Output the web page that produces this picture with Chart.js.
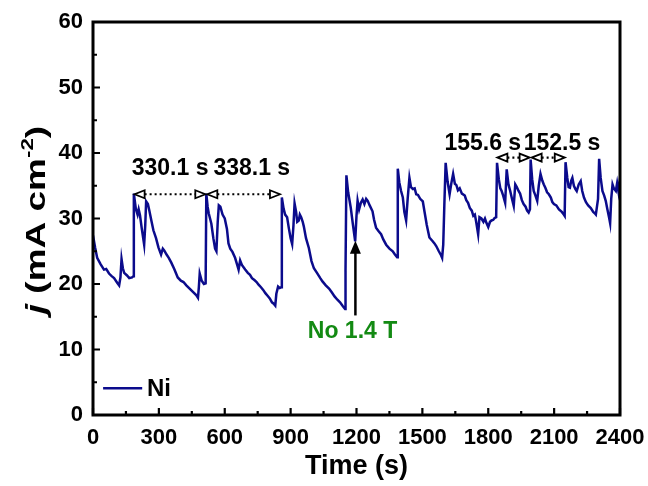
<!DOCTYPE html>
<html>
<head>
<meta charset="utf-8">
<script src="https://cdn.jsdelivr.net/npm/chart.js@4.4.1/dist/chart.umd.min.js"></script>
<style>
  html, body { margin: 0; padding: 0; background: #fff; }
  #wrap { width: 648px; height: 486px; }
</style>
</head>
<body>
<div id="wrap"><canvas id="jtChart" width="648" height="486"></canvas></div>
<script>
// chronoamperometry of Ni, field switched on/off
const timeS = [
  0, 10, 19, 35, 50, 60, 73, 85, 96, 110, 119, 125, 130, 136, 142, 155, 165, 178, 184,
  186, 195, 203, 208, 214, 222, 233, 238, 242, 250, 256, 265, 275, 287, 298, 310, 318, 325, 335, 345, 356,
  370, 386, 400, 412, 425, 440, 455, 470, 478, 482, 486, 495, 505, 513,
  516, 522, 527, 533, 539, 548, 556, 562, 568, 573, 580, 590, 600, 610, 617, 625, 635, 647, 656, 663,
  670, 678, 693, 705, 715, 724, 735, 745, 754, 765, 775, 785, 795, 805, 815, 823, 830, 835, 843, 850, 857,
  860, 868, 875, 884, 892, 900, 907, 913, 918, 925, 930, 937, 942, 948, 955, 960, 970, 983, 995, 1006,
  1020, 1035, 1045, 1060, 1075, 1088, 1100, 1113, 1125, 1138, 1148, 1150,
  1154, 1162, 1174, 1184, 1194, 1200, 1205, 1212, 1220, 1228, 1236, 1244, 1251, 1260, 1273, 1280, 1289,
  1300, 1312, 1322, 1335, 1350, 1365, 1375, 1385,
  1388, 1395, 1403, 1411, 1418, 1426, 1433, 1441, 1448, 1457, 1465, 1472, 1480, 1490, 1502, 1510, 1520,
  1532, 1545, 1555, 1563, 1575, 1585, 1590, 1595, 1600,
  1606, 1615, 1624, 1632, 1640, 1648, 1655, 1662, 1670, 1680, 1693, 1700, 1708, 1716, 1725, 1732, 1739,
  1745, 1754, 1760, 1769, 1778, 1785, 1792, 1800, 1808, 1815, 1823, 1830, 1836,
  1840, 1848, 1855, 1861, 1868, 1877, 1884, 1892, 1900, 1908, 1916, 1923, 1930, 1938, 1945, 1953, 1961,
  1970, 1977, 1984, 1990,
  1993, 2000, 2007, 2015, 2023, 2030, 2038, 2046, 2053, 2060, 2068, 2076, 2085, 2092, 2099, 2110, 2122,
  2135, 2144, 2148,
  2152, 2160, 2166, 2172, 2178, 2183, 2190, 2197, 2203, 2212, 2221, 2228, 2236, 2245, 2255, 2267, 2278,
  2285, 2290, 2300,
  2305, 2312, 2320, 2328, 2335, 2342, 2350, 2355, 2360, 2366, 2372, 2381, 2387, 2393, 2397, 2400
];
const currentNi = [
  27.4, 25.5, 24.0, 23.0, 22.2, 22.3, 21.6, 21.2, 20.9, 20.2, 19.8, 21.0, 23.8, 22.4, 21.7, 21.3, 20.9, 21.0, 21.2,
  33.8, 31.5, 30.6, 31.4, 30.5, 28.5, 26.0, 29.0, 32.6, 32.2, 31.3, 29.8, 28.2, 27.0, 25.6, 24.5, 25.4, 25.1, 24.5, 24.0, 23.3,
  22.3, 21.0, 20.5, 20.3, 19.8, 19.3, 18.8, 18.3, 17.9, 19.5, 21.6, 20.5, 20.0, 20.1,
  33.8, 31.8, 30.8, 30.0, 29.2, 27.0, 25.4, 25.0, 29.5, 32.0, 31.8, 30.6, 30.0, 28.4, 26.2, 25.4, 24.9, 24.0, 23.0, 22.2,
  23.6, 22.9, 22.2, 21.7, 21.4, 20.9, 20.6, 20.3, 19.9, 19.5, 19.1, 18.6, 18.2, 17.8, 17.2, 17.0, 16.7, 18.5, 19.6, 19.4, 19.5,
  33.2, 31.5, 30.6, 30.2, 28.5, 27.0, 26.1, 29.0, 32.3, 31.0, 29.5, 29.7, 30.6, 30.2, 29.5, 28.8, 27.0, 25.5, 23.5, 22.4,
  21.7, 20.9, 20.4, 19.8, 19.3, 18.7, 18.1, 17.6, 17.2, 16.6, 16.2, 22.0,
  36.6, 34.0, 31.6, 29.0, 26.5, 30.4, 32.7, 31.4, 32.4, 32.9, 32.2, 33.0, 32.7, 32.0, 31.1, 29.8, 28.6,
  28.1, 27.6, 26.8, 26.0, 25.4, 25.0, 24.5, 24.1,
  37.6, 35.5, 34.2, 33.2, 31.0, 29.7, 33.0, 36.2, 34.8, 34.5, 34.6, 33.7, 33.6, 33.0, 32.6, 31.0, 29.0,
  27.1, 26.6, 26.2, 25.8, 25.0, 24.4, 24.0, 26.0, 32.0,
  38.5, 35.6, 33.7, 35.4, 36.8, 35.3, 35.1, 34.3, 34.6, 33.8, 33.5, 32.8, 32.4, 31.6, 31.2, 30.4, 30.6,
  29.5, 27.6, 30.2, 30.0, 29.5, 30.0, 29.3, 28.7, 29.5, 29.7, 29.8, 30.1, 30.2,
  38.5, 36.0, 34.6, 34.2, 33.5, 32.4, 37.5, 35.2, 34.2, 33.0, 31.9, 35.2, 34.8, 34.2, 33.8, 32.8, 32.2,
  31.8, 31.2, 30.9, 31.4,
  39.0, 36.0, 34.2, 33.5, 32.7, 35.0, 36.8, 35.8, 35.2, 34.7, 34.0, 33.7, 33.2, 32.5, 32.2, 32.0, 31.4,
  31.0, 30.6, 30.4,
  38.6, 36.2, 34.8, 34.7, 35.8, 36.2, 35.0, 34.5, 34.2, 35.2, 35.7, 34.2, 33.2, 32.5, 32.0, 31.6, 31.0,
  30.8, 30.6, 33.0,
  39.1, 36.2, 34.2, 33.5, 32.7, 31.5, 30.2, 29.3, 33.0, 35.2, 34.6, 34.2, 35.4, 34.1, 35.2, 34.4
];

// period markers between field-on spikes
const spanFrom   = [185, 516, 1837, 1993];
const spanTo     = [516, 856, 1993, 2153];
const spanLevel  = [33.7, 33.7, 39.3, 39.3];
const spanLabels = ['330.1 s', '338.1 s', '155.6 s', '152.5 s'];
const labelTime  = [351, 723, 1775, 2136];
const labelLevel = [37.6, 37.6, 41.4, 41.4];

const noteText = 'No 1.4 T';
const noteTime = 1195;

const FONT = "'Liberation Sans', Arial, sans-serif";
const NAVY = '#0b0b8c';

const framePlugin = {
  id: 'frameTicks',
  afterDraw(chart) {
    const ctx = chart.ctx;
    const a = chart.chartArea;
    const xs = chart.scales.x, ys = chart.scales.y;
    ctx.save();
    ctx.strokeStyle = '#000';
    ctx.lineWidth = 3;
    ctx.strokeRect(a.left, a.top, a.right - a.left, a.bottom - a.top);

    // inward ticks
    ctx.lineWidth = 2.2;
    ctx.beginPath();
    for (let v = 0; v <= 2400; v += 150) {
      const px = xs.getPixelForValue(v);
      const len = v % 300 === 0 ? 7 : 4;
      ctx.moveTo(px, a.bottom); ctx.lineTo(px, a.bottom - len);
    }
    for (let v = 0; v <= 60; v += 5) {
      const py = ys.getPixelForValue(v);
      const len = v % 10 === 0 ? 7 : 4;
      ctx.moveTo(a.left, py); ctx.lineTo(a.left + len, py);
    }
    ctx.stroke();

    // y title: j (mA cm-2)
    ctx.translate(45, 220);
    ctx.rotate(-Math.PI / 2);
    ctx.scale(1.32, 1);
    ctx.fillStyle = '#000';
    ctx.textBaseline = 'alphabetic';
    const big = 'bold 28px ' + FONT, ital = 'italic bold 28px ' + FONT, small = 'bold 17px ' + FONT;
    const parts = [[ital, 'j', 0], [big, ' (mA cm', 0], [small, '-2', -12], [big, ')', 0]];
    let total = 0;
    parts.forEach(p => { ctx.font = p[0]; total += ctx.measureText(p[1]).width; });
    let cx = -total / 2;
    parts.forEach(p => { ctx.font = p[0]; ctx.fillText(p[1], cx, p[2]); cx += ctx.measureText(p[1]).width; });
    ctx.restore();
  }
};

const annoPlugin = {
  id: 'spans',
  afterDatasetsDraw(chart) {
    const ctx = chart.ctx;
    const xs = chart.scales.x, ys = chart.scales.y;
    ctx.save();
    for (let i = 0; i < spanFrom.length; i++) {
      const x1 = xs.getPixelForValue(spanFrom[i]);
      const x2 = xs.getPixelForValue(spanTo[i]);
      const yy = ys.getPixelForValue(spanLevel[i]);
      const head = 11, hh = 4;
      ctx.strokeStyle = '#000';
      ctx.lineWidth = 2.2;
      ctx.setLineDash([2, 3]);
      ctx.beginPath();
      ctx.moveTo(x1 + head, yy); ctx.lineTo(x2 - head, yy);
      ctx.stroke();
      ctx.setLineDash([]);
      ctx.lineWidth = 1.8;
      ctx.beginPath();
      ctx.moveTo(x1 + head, yy - hh); ctx.lineTo(x1 + 1, yy); ctx.lineTo(x1 + head, yy + hh); ctx.closePath();
      ctx.moveTo(x2 - head, yy - hh); ctx.lineTo(x2 - 1, yy); ctx.lineTo(x2 - head, yy + hh); ctx.closePath();
      ctx.stroke();

      ctx.fillStyle = '#000';
      ctx.font = 'bold 23px ' + FONT;
      ctx.textAlign = 'center';
      ctx.textBaseline = 'middle';
      ctx.fillText(spanLabels[i], xs.getPixelForValue(labelTime[i]), ys.getPixelForValue(labelLevel[i]));
    }

    // field-off arrow
    const ax = xs.getPixelForValue(noteTime);
    const yTop = ys.getPixelForValue(26.6), yBot = ys.getPixelForValue(15.2);
    ctx.strokeStyle = '#000';
    ctx.lineWidth = 2.5;
    ctx.beginPath();
    ctx.moveTo(ax, yBot); ctx.lineTo(ax, yTop + 10);
    ctx.stroke();
    ctx.fillStyle = '#000';
    ctx.beginPath();
    ctx.moveTo(ax, yTop); ctx.lineTo(ax - 5.5, yTop + 13); ctx.lineTo(ax + 5.5, yTop + 13); ctx.closePath();
    ctx.fill();
    ctx.fillStyle = '#138a13';
    ctx.font = 'bold 23px ' + FONT;
    ctx.textAlign = 'center';
    ctx.textBaseline = 'middle';
    ctx.fillText(noteText, xs.getPixelForValue(1182), ys.getPixelForValue(12.8));

    // legend
    const ly = ys.getPixelForValue(4.1);
    ctx.strokeStyle = NAVY;
    ctx.lineWidth = 2.5;
    ctx.beginPath();
    ctx.moveTo(xs.getPixelForValue(46), ly); ctx.lineTo(xs.getPixelForValue(224), ly);
    ctx.stroke();
    ctx.fillStyle = '#000';
    ctx.font = 'bold 24px ' + FONT;
    ctx.textAlign = 'left';
    ctx.fillText('Ni', xs.getPixelForValue(246), ly + 1);
    ctx.restore();
  }
};

const ctxJ = document.getElementById('jtChart').getContext('2d');
new Chart(ctxJ, {
  type: 'line',
  data: {
    datasets: [{
      label: 'Ni',
      data: timeS.map((t, i) => ({ x: t, y: currentNi[i] })),
      borderColor: NAVY,
      borderWidth: 2.5,
      pointRadius: 0,
      tension: 0,
      fill: false
    }]
  },
  options: {
    responsive: false,
    animation: false,
    layout: { padding: { top: 22, right: 28, left: 0, bottom: 0 } },
    plugins: { legend: { display: false }, tooltip: { enabled: false } },
    scales: {
      x: {
        type: 'linear',
        min: 0, max: 2400,
        grid: { display: false, drawTicks: false },
        border: { display: false },
        ticks: { stepSize: 300, color: '#000', padding: 10, maxRotation: 0,
                 callback: v => String(v),
                 font: { family: FONT, weight: 'bold', size: 22 } },
        title: { display: true, text: 'Time (s)', color: '#000', padding: { top: 0, bottom: 3 },
                 font: { family: FONT, weight: 'bold', size: 27 } },
        afterFit: s => { s.height = 71; s.paddingLeft = 0; s.paddingRight = 0; }
      },
      y: {
        min: 0, max: 60,
        grid: { display: false, drawTicks: false },
        border: { display: false },
        ticks: { stepSize: 10, color: '#000', padding: 10,
                 callback: v => String(v),
                 font: { family: FONT, weight: 'bold', size: 22 } },
        afterFit: s => { s.width = 93; s.paddingTop = 0; s.paddingBottom = 0; }
      }
    }
  },
  plugins: [annoPlugin, framePlugin]
});
</script>
</body>
</html>
